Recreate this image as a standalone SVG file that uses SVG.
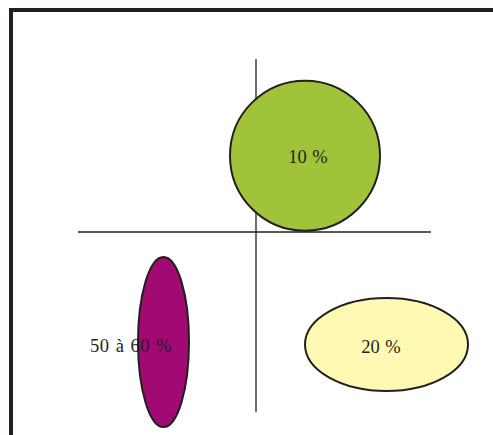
<svg xmlns="http://www.w3.org/2000/svg" width="493" height="435" viewBox="0 0 493 435">
<style>
.frame{fill:none;stroke:#231f20;stroke-width:4}
.axis{stroke:#231f20;stroke-width:1.3;fill:none}
.shape{stroke:#231f20;stroke-width:2}
.lbl{font-family:"Liberation Serif","DejaVu Serif",serif;font-size:18.5px;fill:#231f20;text-anchor:middle;word-spacing:1px}
</style>
<rect width="493" height="435" fill="#ffffff"/>
<path class="frame" d="M11,440 V10 H500"/>
<g id="connectors">
<line class="axis" x1="256" y1="59" x2="256" y2="412"/>
<line class="axis" x1="78" y1="232" x2="431" y2="232"/>
</g>
<g id="green">
<circle class="shape" cx="305" cy="155.7" r="75" fill="#a1c33a"/>
<text class="lbl" x="308" y="163">10 %</text>
</g>
<g id="magenta">
<ellipse class="shape" cx="163.5" cy="342" rx="25.5" ry="85" fill="#a20a73"/>
<text class="lbl" x="131" y="352" style="letter-spacing:0.5px">50 à 60 %</text>
</g>
<g id="yellow">
<ellipse class="shape" cx="386.5" cy="344.5" rx="81.5" ry="46.5" fill="#fff9b3"/>
<text class="lbl" x="381" y="353">20 %</text>
</g>
</svg>
